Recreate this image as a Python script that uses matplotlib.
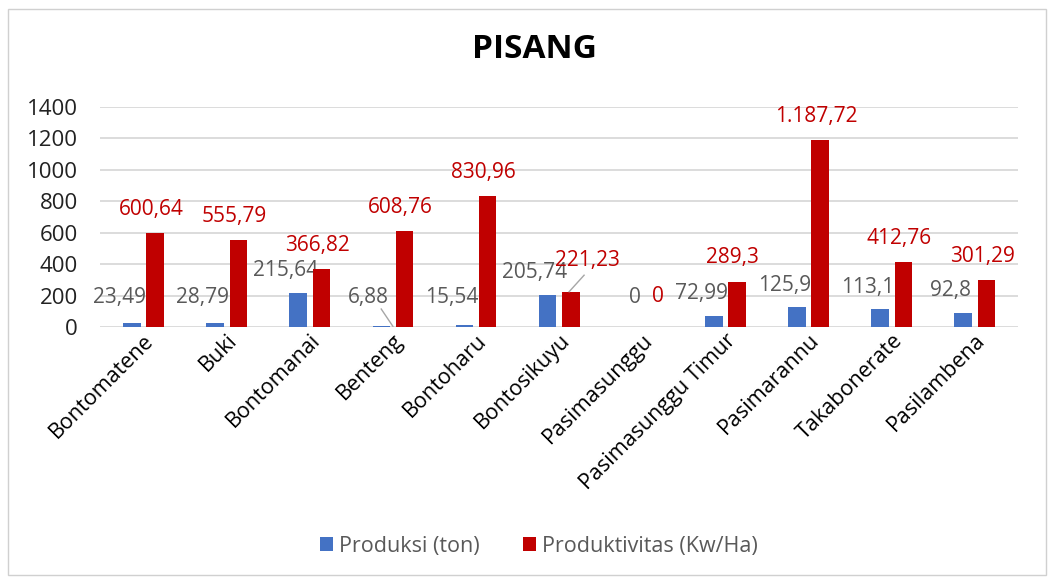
import numpy as np
import matplotlib.pyplot as plt
from matplotlib.patches import Rectangle

plt.rcParams['font.family'] = ['Open Sans', 'DejaVu Sans']

# data
kecamatan = ['Bontomatene', 'Buki', 'Bontomanai', 'Benteng', 'Bontoharu',
             'Bontosikuyu', 'Pasimasunggu', 'Pasimasunggu Timur', 'Pasimarannu',
             'Takabonerate', 'Pasilambena']
produksi = [23.49, 28.79, 215.64, 6.88, 15.54, 205.74, 0, 72.99, 125.9, 113.1, 92.8]
produktivitas = [600.64, 555.79, 366.82, 608.76, 830.96, 221.23, 0, 289.3, 1187.72, 412.76, 301.29]


def fmt(v):
    # format Indonesia: titik ribuan, koma desimal
    s = f"{v:,.2f}".rstrip('0').rstrip('.')
    return s.replace(',', 'X').replace('.', ',').replace('X', '.')


fig = plt.figure(figsize=(10.55, 5.81), dpi=100)
ax = fig.add_axes([0.095, 0.437, 0.87, 0.379])

x = np.arange(len(kecamatan))
w = 0.21
d = 0.14
biru = '#4472C4'
merah = '#C00000'
abu = '#595959'
ax.bar(x - d, produksi, w, color=biru, label='Produksi (ton)', zorder=3)
ax.bar(x + d, produktivitas, w, color=merah, label='Produktivitas (Kw/Ha)', zorder=3)

# label nilai (digeser manual seperti di Excel)
geser_merah = {5: (0.2, 6)}
for i in range(len(x)):
    vb = produksi[i]
    vr = produktivitas[i]
    dx_b = -0.15 if vb > 0 else 0.05
    ax.annotate(fmt(vb), (x[i] - d + dx_b, max(vb, 45)), xytext=(0, 16),
                textcoords='offset points', color=abu, fontsize=15,
                ha='center', va='center', zorder=2)
    dx_r, dy_r = geser_merah.get(i, (-0.05 if vr > 0 else 0.05, 0))
    ax.annotate(fmt(vr), (x[i] + d + dx_r, max(vr, 45)), xytext=(0, 17 + dy_r),
                textcoords='offset points', color=merah, fontsize=15,
                ha='center', va='center', zorder=2)

# garis penunjuk
ax.plot([x[3] - 0.14, x[3]], [115, 5], color='#A6A6A6', lw=1, zorder=4)
ax.plot([x[5] + 0.12, x[5] + 0.3], [225, 330], color='#A6A6A6', lw=1, zorder=4)

ax.set_ylim(0, 1400)
ax.set_xlim(-0.52, len(x) - 0.48)
ax.set_yticks(range(0, 1401, 200))
ax.grid(axis='y', color='#D9D9D9', lw=1.3, zorder=0)
ax.tick_params(axis='y', length=0, labelsize=16, colors='#222222', pad=16)
ax.tick_params(axis='x', length=0, labelsize=15.5, pad=2)
ax.set_xticks(x)
ax.set_xticklabels(kecamatan, rotation=45, ha='right', rotation_mode='anchor')
for s in ax.spines.values():
    s.set_visible(False)

fig.text(0.507, 0.914, 'PISANG', fontsize=24, fontweight='bold', ha='center', va='center')
fig.legend(loc='center', bbox_to_anchor=(0.511, 0.06), ncol=2, frameon=False,
           fontsize=15.5, handlelength=0.6, handleheight=0.6, columnspacing=2.0,
           handletextpad=0.3, labelcolor=abu)

fig.patches.append(Rectangle((0.008, 0.01), 0.983, 0.975, transform=fig.transFigure,
                             fill=False, edgecolor='#D0D0D0', lw=1))

plt.savefig('out.png', dpi=100)
